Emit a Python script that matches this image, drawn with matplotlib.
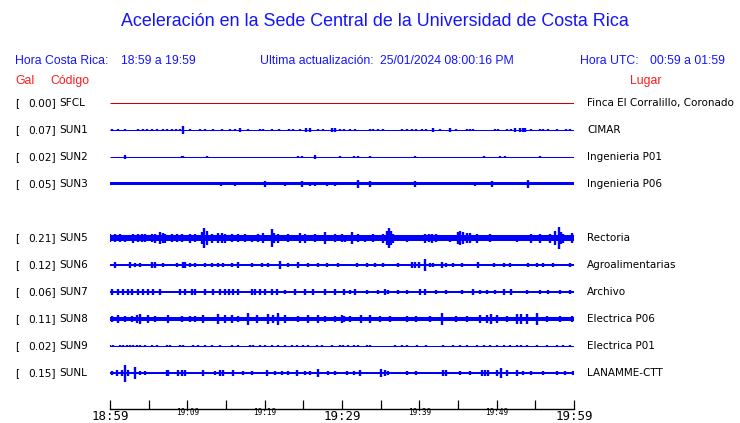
import matplotlib.pyplot as plt
import numpy as np

W, H = 740, 423

# station table
codes = ['SFCL', 'SUN1', 'SUN2', 'SUN3', 'SUN5', 'SUN6', 'SUN7', 'SUN8', 'SUN9', 'SUNL']
peaks = [0.00, 0.07, 0.02, 0.05, 0.21, 0.12, 0.06, 0.11, 0.02, 0.15]
places = ['Finca El Corralillo, Coronado', 'CIMAR', 'Ingenieria P01', 'Ingenieria P06',
          'Rectoria', 'Agroalimentarias', 'Archivo', 'Electrica P06', 'Electrica P01',
          'LANAMME-CTT']
slots = [0, 1, 2, 3, 5, 6, 7, 8, 9, 10]   # SUN4 slot is empty
# half thickness of the continuous noise band (px)
base = [0.5, 0.5, 0.5, 1.5, 2.6, 1.25, 1.3, 2.0, 0.5, 1.3]

tick_min = [0, 10, 20, 30, 40, 50, 60]
tick_lbl = ['18:59', '19:09', '19:19', '19:29', '19:39', '19:49', '19:59']

# bursts: minute after 18:59, half amplitude (px)
sfcl_min, sfcl_amp = [], []

sun1_min = [0.22, 1.08, 1.94, 3.66, 4.31, 4.74, 5.39, 6.03, 6.9, 7.33, 7.97, 8.49, 9.05, 9.48,
            10.34, 11.64, 12.28, 13.36, 14.44, 15.5, 16.16, 16.8, 17.9, 19.4, 19.8, 20.9, 21.8,
            23.1, 23.7, 24.6, 25.4, 25.9, 26.9, 27.6, 28.7, 29.1, 29.7, 30.3, 31.0, 31.7, 33.6,
            34.0, 34.7, 35.3, 37.7, 38.4, 39.0, 39.6, 40.3, 40.9, 41.8, 42.7, 44.0, 44.8, 46.1,
            46.5, 47.0, 49.8, 50.2, 51.3, 51.9, 52.4, 53.0, 53.4, 53.7, 54.5, 55.6, 56.0, 56.7,
            57.8, 59.0, 59.5]
sun1_amp = [1.3, 1.0, 1.3, 1.0, 1.3, 1.3, 1.0, 1.0, 1.0, 1.3, 1.3, 1.3, 1.3, 4.0,
            1.0, 1.0, 1.0, 1.0, 1.0, 1.0, 1.0, 1.7, 1.0, 1.3, 1.3, 1.0, 1.3,
            1.0, 1.3, 1.0, 1.7, 1.7, 1.0, 1.0, 1.7, 1.7, 1.0, 1.0, 1.0, 1.0, 1.0,
            1.0, 1.0, 1.0, 1.3, 1.3, 1.0, 1.3, 1.0, 1.3, 2.0, 1.0, 2.3, 1.0, 1.3,
            1.3, 1.3, 1.3, 1.0, 1.3, 1.3, 2.0, 1.7, 1.7, 1.7, 1.0, 1.3, 1.3, 1.0,
            1.0, 1.0, 1.3]

sun2_min = [1.94, 9.26, 9.48, 12.5, 24.3, 24.8, 26.5, 29.7, 31.5, 32.1, 33.6, 39.4, 48.3,
            50.4, 51.1, 55.6]
sun2_amp = [1.7, 1.3, 1.3, 1.0, 1.0, 1.0, 1.7, 1.0, 1.3, 1.3, 1.0, 1.0, 1.3, 1.0, 1.3, 1.0]

sun3_min = [14.4, 16.2, 20.0, 22.6, 24.8, 25.9, 26.5, 28.0, 29.1, 32.1, 33.6, 39.4, 47.2,
            49.4, 54.1]
sun3_amp = [2.3, 2.3, 2.6, 2.0, 3.0, 2.3, 2.3, 2.0, 2.0, 3.6, 2.6, 2.6, 2.3, 2.6, 3.6]

sun5_min = [0.0, 0.65, 1.3, 1.94, 3.02, 3.66, 4.1, 4.53, 5.4, 5.82, 6.47, 6.9, 7.11, 7.97,
            8.62, 9.27, 10.34, 10.99, 11.85, 12.15, 12.5, 13.15, 14.0, 14.44, 14.87, 15.73,
            16.6, 17.46, 18.3, 19.2, 19.83, 20.9, 21.2, 21.77, 23.06, 24.57, 25.2, 26.5, 27.8,
            29.1, 29.95, 30.4, 31.3, 32.1, 33.0, 34.0, 35.3, 35.8, 36.1, 36.3, 36.6, 38.4,
            40.7, 41.2, 41.6, 42.2, 44.0, 45.0, 45.3, 45.7, 46.1, 46.5, 47.4, 49.1, 51.3,
            52.6, 53.9, 54.5, 55.6, 56.9, 57.5, 58.0, 58.3, 58.6, 59.7]
sun5_amp = [3.8, 3.8, 3.8, 3.5, 4.5, 3.8, 3.6, 3.6, 3.8, 4.5, 5.7, 4.8, 4.5, 3.6,
            3.6, 3.6, 4.5, 3.6, 6.0, 10.0, 7.0, 4.5, 5.0, 5.0, 4.5, 3.8,
            3.8, 3.8, 3.5, 3.8, 4.7, 9.0, 5.0, 4.5, 3.8, 5.3, 4.5, 3.8, 6.0,
            3.8, 3.6, 3.5, 6.0, 3.8, 3.5, 3.8, 4.5, 7.0, 10.0, 7.0, 4.5, 3.5,
            4.5, 4.0, 4.5, 3.8, 3.5, 6.0, 7.3, 6.0, 5.0, 5.0, 4.5, 3.8, 3.3,
            3.5, 3.3, 4.5, 4.5, 4.5, 6.7, 11.0, 6.0, 4.5, 4.7]

sun6_min = [0.64, 2.58, 3.23, 3.88, 5.38, 5.82, 6.89, 8.62, 9.48, 9.69, 10.34, 10.99, 12.28,
            13.14, 14.0, 14.65, 15.73, 16.59, 18.31, 19.6, 20.47, 21.98, 23.06, 24.35, 25.64,
            26.93, 28.0, 29.52, 31.9, 33.2, 34.3, 35.3, 37.3, 39.0, 39.4, 39.9, 40.7, 41.4,
            41.8, 42.9, 43.5, 44.4, 45.5, 47.6, 49.6, 50.9, 51.7, 54.1, 55.2, 56.0, 57.3, 59.5]
sun6_amp = [2.6, 2.6, 2.2, 2.2, 3.0, 3.0, 2.2, 2.2, 2.6, 2.6, 2.4, 2.4, 2.2,
            2.2, 2.2, 2.2, 2.2, 2.6, 2.0, 2.2, 2.2, 4.0, 2.4, 3.3, 2.2,
            2.2, 2.2, 2.2, 2.0, 2.2, 2.4, 2.0, 2.0, 2.6, 2.6, 2.6, 6.0, 2.4,
            2.2, 2.6, 2.4, 2.0, 2.2, 3.3, 2.0, 2.2, 2.4, 2.0, 2.2, 2.0, 2.2, 2.2]

sun7_min = [0.21, 1.07, 1.72, 2.37, 2.8, 3.66, 4.31, 4.95, 5.6, 6.46, 9.05, 9.69, 10.56,
            10.99, 12.28, 13.36, 14.22, 14.87, 15.4, 15.94, 16.59, 18.31, 18.8, 19.39, 20.04,
            20.9, 21.55, 22.62, 23.92, 25.21, 26.29, 27.8, 29.1, 30.2, 31.0, 31.7, 33.2, 34.7,
            35.6, 36.0, 37.3, 38.4, 40.1, 40.7, 42.2, 43.5, 45.5, 47.0, 47.8, 48.7, 49.8,
            50.9, 51.9, 53.9, 55.6, 56.7, 58.2, 59.5]
sun7_amp = [2.6, 2.6, 2.6, 3.3, 2.6, 2.6, 2.6, 2.6, 2.6, 2.6, 2.6, 2.6, 3.3,
            3.3, 2.6, 2.6, 2.6, 2.6, 2.6, 2.6, 2.6, 2.6, 2.6, 2.6, 2.6,
            2.6, 2.6, 2.2, 2.6, 2.6, 2.6, 2.6, 2.6, 2.6, 2.4, 2.6, 2.2, 2.4,
            2.8, 2.4, 2.4, 2.4, 2.6, 2.6, 2.2, 2.2, 2.2, 2.6, 2.4, 2.2, 2.2,
            2.8, 2.6, 2.2, 2.4, 2.2, 2.2, 2.4]

sun8_min = [0.21, 1.07, 1.94, 2.8, 3.44, 3.88, 4.95, 5.82, 7.54, 9.26, 10.34, 10.99, 12.06,
            14.0, 14.87, 15.73, 16.59, 17.88, 18.96, 20.47, 21.12, 21.76, 22.62, 24.35, 25.64,
            26.93, 27.8, 29.1, 29.95, 30.2, 31.0, 32.5, 33.6, 34.9, 36.2, 38.4, 39.6, 41.4,
            42.9, 44.8, 46.1, 47.8, 48.7, 49.3, 50.0, 51.3, 52.6, 53.2, 53.9, 55.2, 56.5,
            58.2, 59.7]
sun8_amp = [3.3, 3.6, 3.3, 3.3, 4.0, 4.7, 3.6, 3.2, 4.0, 3.3, 3.3, 3.3, 3.6,
            4.7, 3.6, 4.0, 3.3, 6.0, 3.6, 4.7, 3.6, 6.0, 4.0, 3.2, 3.6,
            4.0, 3.2, 3.2, 3.6, 3.2, 3.2, 3.6, 4.0, 3.3, 3.3, 3.3, 3.2, 3.3,
            6.0, 3.2, 3.3, 4.0, 4.0, 5.0, 4.0, 3.2, 4.7, 4.7, 4.7, 6.0, 3.2,
            3.2, 3.0]

sun9_min = [0.0, 0.43, 1.29, 1.72, 2.15, 2.58, 3.01, 3.44, 3.88, 4.52, 5.38, 6.03, 7.32, 7.75,
            9.05, 9.48, 10.77, 11.42, 12.28, 13.14, 14.22, 15.73, 16.59, 18.1, 18.53, 19.39,
            20.04, 20.9, 21.76, 22.62, 23.49, 24.13, 24.99, 25.64, 26.72, 27.37, 28.66, 29.74,
            30.17, 30.8, 31.5, 32.1, 33.2, 33.6, 36.9, 37.7, 38.4, 39.7, 40.9, 43.1, 44.4,
            45.3, 46.1, 47.4, 48.3, 49.1, 50.0, 50.9, 51.7, 52.6, 53.2, 53.9, 55.2, 56.5,
            57.8, 58.6, 59.5]
sun9_amp = [1.4] * len(sun9_min)

sunl_min = [0.21, 0.86, 1.51, 1.94, 2.37, 3.23, 3.88, 4.52, 7.32, 7.54, 8.83, 9.26, 9.69,
            12.06, 13.57, 14.22, 14.65, 15.94, 17.24, 18.31, 20.25, 21.33, 22.19, 23.06, 24.13,
            25.21, 25.86, 26.93, 28.23, 29.09, 30.6, 31.5, 32.3, 35.1, 35.6, 36.0, 38.4, 39.6,
            43.1, 43.5, 45.3, 46.5, 48.1, 48.5, 48.9, 50.0, 50.6, 51.3, 52.6, 53.4, 54.5,
            56.0, 57.8, 58.8, 59.9]
sunl_amp = [2.2, 2.6, 3.0, 8.5, 3.3, 5.7, 2.4, 2.4, 2.6, 2.6, 2.6, 2.6, 2.6,
            2.6, 2.2, 2.6, 2.6, 3.0, 2.4, 2.2, 2.6, 2.4, 2.4, 2.2, 2.6,
            2.2, 2.4, 4.3, 2.4, 2.4, 2.2, 2.2, 3.0, 4.0, 2.8, 2.2, 2.2, 2.4,
            2.6, 2.6, 2.2, 2.4, 2.8, 2.8, 2.8, 3.0, 5.0, 2.8, 2.8, 2.4, 2.4,
            2.4, 2.2, 2.2, 2.2]

bursts = [(sfcl_min, sfcl_amp), (sun1_min, sun1_amp), (sun2_min, sun2_amp),
          (sun3_min, sun3_amp), (sun5_min, sun5_amp), (sun6_min, sun6_amp),
          (sun7_min, sun7_amp), (sun8_min, sun8_amp), (sun9_min, sun9_amp),
          (sunl_min, sunl_amp)]

BLUE = '#1414ff'
RED = '#ff1a1a'
TRACE = '#0000ff'


def px(x, y):
    return x / W, 1 - y / H


fig = plt.figure(figsize=(W / 100, H / 100), dpi=100)

# trace panel, y axis counted in pixels from the top of the image
top, bottom = 90, 409
ax = fig.add_axes([110 / W, 1 - bottom / H, 464 / W, (bottom - top) / H])
ax.set_xlim(0, 60)
ax.set_ylim(bottom, top)

for i, (slot, b) in enumerate(zip(slots, base)):
    yc = 103 + 27 * slot
    t, a = bursts[i]
    col = '#cc0000' if codes[i] == 'SFCL' else TRACE
    if b <= 0.5:
        ax.plot([0, 60], [yc, yc], color=col, lw=0.75, solid_capstyle='butt')
    else:
        ax.fill_between([0, 60], yc - b, yc + b, color=col, lw=0)
    if t:
        t = np.array(t)
        a = np.array(a)
        ax.vlines(t, yc - a, yc + a, color=col, lw=1.7)

    fig.text(*px(15, yc), '[', fontsize=7.6, va='center', family='DejaVu Sans')
    fig.text(*px(56, yc), f'{peaks[i]:.2f}]', fontsize=7.6, va='center', ha='right',
             family='DejaVu Sans')
    fig.text(*px(59, yc), codes[i], fontsize=7.6, va='center', family='DejaVu Sans')
    fig.text(*px(587, yc), places[i], fontsize=7.5, va='center', family='DejaVu Sans')

for s in ['top', 'left', 'right']:
    ax.spines[s].set_visible(False)
ax.spines['bottom'].set_linewidth(1.0)
ax.set_yticks([])
ax.set_xticks(tick_min, tick_lbl)
ax.set_xticks([5, 15, 25, 35, 45, 55], minor=True)
ax.tick_params(axis='x', which='both', direction='in', length=6.2, width=0.9, pad=0.5)
for m, lab in zip(tick_min, ax.get_xticklabels()):
    lab.set_family('DejaVu Sans Mono')
    if m % 30 == 0:
        lab.set_fontsize(9)
    else:
        lab.set_fontsize(5.6)
        lab.set_y(0.006)

# headers
fig.text(*px(375, 22), 'Aceleración en la Sede Central de la Universidad de Costa Rica',
         fontsize=12.9, ha='center', va='center', color=BLUE, family='Liberation Sans')
hdr = dict(fontsize=8.8, va='center', color=BLUE, family='Liberation Sans')
fig.text(*px(15, 61), 'Hora Costa Rica:', **hdr)
fig.text(*px(121, 61), '18:59 a 19:59', **hdr)
fig.text(*px(260, 61), 'Ultima actualización:', **hdr)
fig.text(*px(380, 61), '25/01/2024 08:00:16 PM', **hdr)
fig.text(*px(580, 61), 'Hora UTC:', **hdr)
fig.text(*px(650, 61), '00:59 a 01:59', **hdr)

red = dict(fontsize=8.8, va='center', color=RED, family='Liberation Sans')
fig.text(*px(15, 81), 'Gal', **red)
fig.text(*px(50, 81), 'Código', **red)
fig.text(*px(630, 81), 'Lugar', **red)

fig.savefig('out.png', dpi=100)
